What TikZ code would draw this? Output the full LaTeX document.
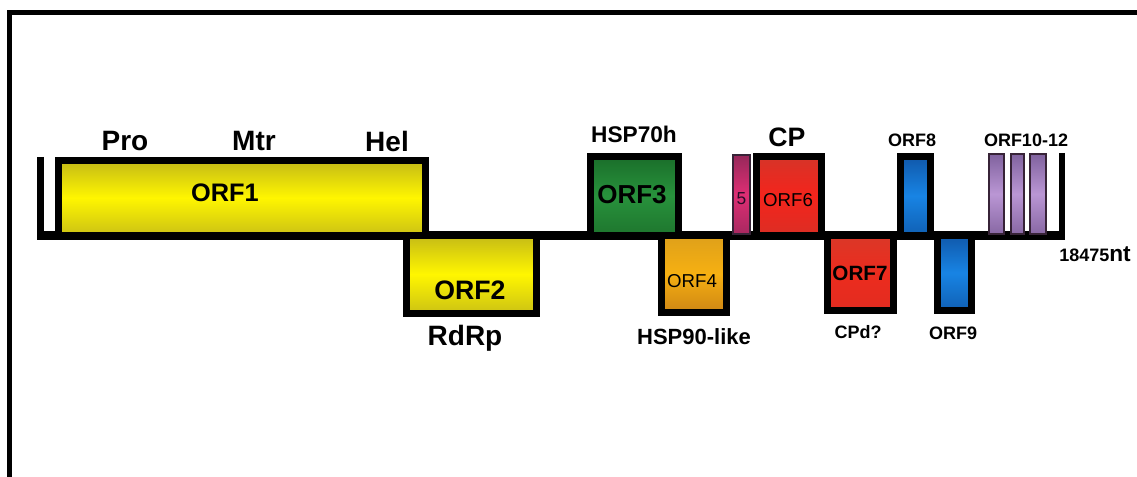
\documentclass[tikz,border=0pt]{standalone}
\usepackage{fontspec}
\setmainfont{Liberation Sans}

\newcommand{\lblsize}[1]{\fontsize{#1}{#1}\selectfont}

\tikzset{every picture/.style={line width=0.75pt}}
\tikzset{
  orfbox/.style={draw=black, line width=5.25pt, line join=miter},
  thinbox/.style={draw={rgb,255:red,55;green,35;blue,55}, line width=1.6pt},
  lbl/.style={inner sep=0.75pt, font=\bfseries},
  yellowfill/.style={top color={rgb,255:red,196;green,186;blue,22}, bottom color={rgb,255:red,204;green,194;blue,20}, middle color={rgb,255:red,255;green,246;blue,0}},
  bluefill/.style={top color={rgb,255:red,16;green,88;blue,170}, bottom color={rgb,255:red,16;green,96;blue,180}, middle color={rgb,255:red,24;green,132;blue,228}},
  purplefill/.style={top color={rgb,255:red,128;green,98;blue,158}, bottom color={rgb,255:red,136;green,104;blue,164}, middle color={rgb,255:red,186;green,150;blue,212}},
}

\begin{document}
\begin{tikzpicture}[x=0.75pt,y=0.75pt,yscale=-1,xscale=1]
	\useasboundingbox (0,0) rectangle (1137,477);
	%Frame
	\draw [line width=3.75pt, line join=miter] (9.5,477) -- (9.5,12.5) -- (1137,12.5) ;
	%Straight Lines [genome]
	\draw [line width=6.75pt] (37,235) -- (1065,235) ;
	\draw [line width=5.25pt] (40.5,157) -- (40.5,239) ;
	\draw [line width=4.5pt] (1062,153) -- (1062,239) ;

	%Shape: Rectangle [ORF1]
	\draw [orfbox, yellowfill] (58.5,160.5) -- (425.5,160.5) -- (425.5,235) -- (58.5,235) -- cycle ;
	%Shape: Rectangle [ORF2]
	\draw [orfbox, yellowfill] (406.5,235) -- (536.5,235) -- (536.5,313.5) -- (406.5,313.5) -- cycle ;
	%Shape: Rectangle [ORF3]
	\draw [orfbox, top color={rgb,255:red,26;green,110;blue,42}, bottom color={rgb,255:red,30;green,118;blue,46}, middle color={rgb,255:red,40;green,146;blue,60}] (590.5,156.5) -- (678.5,156.5) -- (678.5,235) -- (590.5,235) -- cycle ;
	%Shape: Rectangle [ORF4]
	\draw [orfbox, top color={rgb,255:red,222;green,160;blue,26}, bottom color={rgb,255:red,206;green,134;blue,20}, middle color={rgb,255:red,246;green,176;blue,18}] (661.5,235) -- (726.5,235) -- (726.5,312.5) -- (661.5,312.5) -- cycle ;
	%Shape: Rectangle [ORF5]
	\draw [thinbox, top color={rgb,255:red,150;green,40;blue,90}, bottom color={rgb,255:red,168;green,40;blue,96}, middle color={rgb,255:red,222;green,46;blue,116}] (733,155) -- (750,155) -- (750,234) -- (733,234) -- cycle ;
	%Shape: Rectangle [ORF6]
	\draw [orfbox, top color={rgb,255:red,214;green,52;blue,40}, bottom color={rgb,255:red,220;green,46;blue,36}, middle color={rgb,255:red,244;green,36;blue,28}] (756.5,156.5) -- (821.5,156.5) -- (821.5,235) -- (756.5,235) -- cycle ;
	%Shape: Rectangle [ORF7]
	\draw [orfbox, top color={rgb,255:red,218;green,56;blue,40}, bottom color={rgb,255:red,226;green,44;blue,32}, middle color={rgb,255:red,236;green,44;blue,30}] (827.5,235) -- (893.5,235) -- (893.5,310.5) -- (827.5,310.5) -- cycle ;
	%Shape: Rectangle [ORF8]
	\draw [orfbox, bluefill] (900.5,156.5) -- (930.5,156.5) -- (930.5,235) -- (900.5,235) -- cycle ;
	%Shape: Rectangle [ORF9]
	\draw [orfbox, bluefill] (937.5,235) -- (971.5,235) -- (971.5,310.5) -- (937.5,310.5) -- cycle ;
	%Shape: Rectangle [ORF10-12]
	\foreach \xa/\xb in {989/1004, 1011/1024, 1030/1046}
	  \draw [thinbox, purplefill] (\xa,154) -- (\xb,154) -- (\xb,234) -- (\xa,234) -- cycle ;

	% Text Node
	\node [lbl, font=\bfseries\lblsize{21}] (pro) at (125,141) {Pro};
	% Text Node
	\node [lbl, font=\bfseries\lblsize{21}] (mtr) at (254,141) {Mtr};
	% Text Node
	\node [lbl, font=\bfseries\lblsize{21}] (hel) at (387,141) {Hel};
	% Text Node
	\node [lbl, font=\bfseries\lblsize{19}] (orf1) at (225,193) {ORF1};
	% Text Node
	\node [lbl, font=\bfseries\lblsize{20}] (orf2) at (470,290) {ORF2};
	% Text Node
	\node [lbl, font=\bfseries\lblsize{21}] (rdrp) at (465,338) {RdRp};
	% Text Node
	\node [lbl, font=\bfseries\lblsize{19.5}] (orf3) at (632,195) {ORF3};
	% Text Node
	\node [lbl, font=\bfseries\lblsize{17}] (hsp70) at (634,134) {HSP70h};
	% Text Node
	\node [lbl, font=\lblsize{14}] (orf4) at (692,281) {ORF4};
	% Text Node
	\node [lbl, font=\bfseries\lblsize{16.5}] (hsp90) at (694,337) {HSP90-like};
	% Text Node
	\node [lbl, font=\lblsize{13}, text={rgb,255:red,40;green,10;blue,40}] (orf5) at (741.5,199) {5};
	% Text Node
	\node [lbl, font=\lblsize{14}] (orf6) at (788,200) {ORF6};
	% Text Node
	\node [lbl, font=\bfseries\lblsize{20}] (cp) at (787,137) {CP};
	% Text Node
	\node [lbl, font=\bfseries\lblsize{15.5}] (orf7) at (860,273) {ORF7};
	% Text Node
	\node [lbl, font=\bfseries\lblsize{13.5}] (cpd) at (858,332) {CPd?};
	% Text Node
	\node [lbl, font=\bfseries\lblsize{13.5}] (orf8) at (912,140) {ORF8};
	% Text Node
	\node [lbl, font=\bfseries\lblsize{13.5}] (orf9) at (953,333) {ORF9};
	% Text Node
	\node [lbl, font=\bfseries\lblsize{13.5}] (orf1012) at (1026,140) {ORF10-12};
	% Text Node
	\node [lbl, font=\bfseries] (len) at (1095,254) {{\lblsize{13.5}18475}{\lblsize{17}nt}};
\end{tikzpicture}
\end{document}
